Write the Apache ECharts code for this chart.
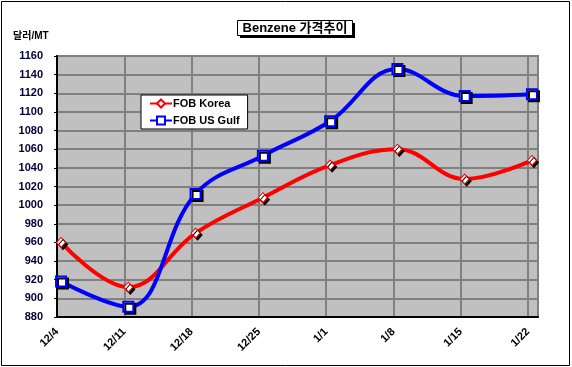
<!DOCTYPE html>
<html><head><meta charset="utf-8">
<script src="https://cdn.jsdelivr.net/npm/echarts@6/dist/echarts.min.js"></script>
<style>html,body{margin:0;padding:0;background:#fff}#c{width:572px;height:367px}</style>
</head><body><div id="c"></div>
<script>
const categories = ['12/4','12/11','12/18','12/25','1/1','1/8','1/15','1/22'];
const korea = [960, 912, 970, 1008, 1043, 1060, 1028, 1048];
const usGulf = [918, 891, 1012, 1053, 1090, 1146, 1117, 1119];
const yTicks = [880, 1160, 20];
const seriesNames = ['FOB Korea', 'FOB US Gulf'];
const titleText = 'Benzene 가격추이';
const unitText = '달러/MT';

const FONT = '"Liberation Sans", Arial, "Noto Sans CJK KR", sans-serif';
const X_SHIFT = 0.06; // Excel-style offset of points from category gridlines
const toPts = arr => arr.map((v, i) => [i + X_SHIFT, v]);

const chart = echarts.init(document.getElementById('c'), null, {renderer: 'canvas'});
const markerShadow = {shadowColor: '#000', shadowBlur: 0, shadowOffsetX: 2, shadowOffsetY: 2};
chart.setOption({
  animation: false,
  backgroundColor: '#fff',
  legend: {
    data: seriesNames, orient: 'vertical', left: 141, top: 95,
    backgroundColor: '#fff', borderColor: '#000', borderWidth: 1,
    padding: [3, 8, 3, 8], itemGap: 6, itemWidth: 22, itemHeight: 10,
    textStyle: {fontFamily: FONT, fontWeight: 'bold', fontSize: 11, color: '#000', padding: [0, 0, 0, -4]}
  },
  grid: {left: 57, right: 34, top: 56, bottom: 50, show: true, backgroundColor: '#c0c0c0', borderColor: '#808080', borderWidth: 2},
  xAxis: {
    type: 'value', min: 0, max: categories.length - 1 + 0.15, interval: 1,
    axisLine: {show: true, lineStyle: {color: '#000', width: 2}},
    axisTick: {show: false},
    splitLine: {show: true, lineStyle: {color: '#808080', width: 2}},
    axisLabel: {
      rotate: 45, margin: 13, fontFamily: FONT, fontWeight: 'bold', fontSize: 11, color: '#000',
      showMaxLabel: false,
      formatter: v => (Number.isInteger(v) && categories[v] !== undefined) ? categories[v] : ''
    }
  },
  yAxis: {
    type: 'value', min: yTicks[0], max: yTicks[1], interval: yTicks[2],
    axisLine: {show: true, lineStyle: {color: '#000', width: 2}},
    axisTick: {show: true, length: 3, lineStyle: {color: '#000'}},
    splitLine: {show: true, lineStyle: {color: '#808080', width: 2}},
    axisLabel: {margin: 14, fontFamily: FONT, fontWeight: 'bold', fontSize: 11, color: '#00003a', formatter: v => String(v)}
  },
  graphic: [
    {type: 'rect', shape: {x: 1.5, y: 1.5, width: 568, height: 364}, style: {fill: 'none', stroke: '#000', lineWidth: 1}, z: 100},
    {type: 'text', left: 13, top: 31, style: {text: unitText, font: 'bold 10px ' + FONT, fill: '#000'}},
    {type: 'group', left: 237, top: 20, children: [
      {type: 'rect', shape: {x: 3, y: 3, width: 115, height: 15}, style: {fill: '#000'}},
      {type: 'rect', shape: {x: 0.5, y: 0.5, width: 115, height: 15}, style: {fill: '#fff', stroke: '#000', lineWidth: 1}},
      {type: 'text', x: 58, y: 8.5, style: {text: titleText, font: 'bold 13px ' + FONT, fill: '#000', align: 'center', verticalAlign: 'middle'}}
    ]}
  ],
  series: [
    {
      name: seriesNames[0], type: 'line', data: toPts(korea), smooth: 0.4,
      symbol: 'diamond', symbolSize: [9, 10],
      lineStyle: {color: '#ff0000', width: 4},
      itemStyle: Object.assign({color: '#fff', borderColor: '#ff0000', borderWidth: 1}, markerShadow),
      z: 3
    },
    {
      name: seriesNames[1], type: 'line', data: toPts(usGulf), smooth: 0.4,
      symbol: 'rect', symbolSize: 10,
      lineStyle: {color: '#0000ff', width: 4},
      itemStyle: Object.assign({color: '#fff', borderColor: '#0000ff', borderWidth: 2}, markerShadow),
      z: 4
    }
  ]
});
</script></body></html>
